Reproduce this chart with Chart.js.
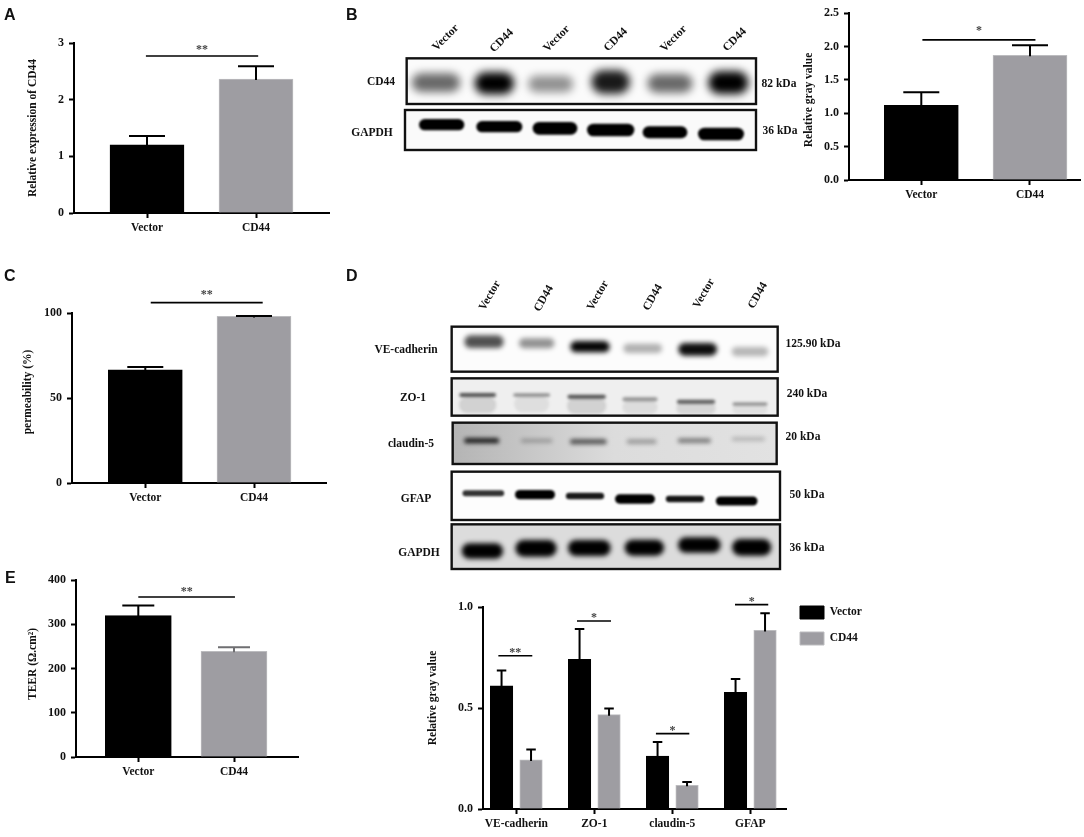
<!DOCTYPE html>
<html>
<head>
<meta charset="utf-8">
<title>CD44 panels</title>
<script src="https://cdn.jsdelivr.net/npm/chart.js@4"></script>
<style>
    html, body { margin: 0; background: #fff; }
    #page { position: relative; width: 1084px; height: 837px; overflow: hidden; }
    #page canvas { position: absolute; }
    .lbl { position: absolute; white-space: nowrap; font: bold 11.5px "Liberation Serif", serif; color: #111; }
    .letter { position: absolute; font: bold 16px "Liberation Sans", sans-serif; color: #111; line-height: 16px; }
</style>
</head>
<body>
<div id="page"><canvas id="blots" width="1084" height="837" style="left:0;top:0"></canvas></div>
<script>
const barCategories = ['Vector', 'CD44'];
const markerCategories = ['VE-cadherin', 'ZO-1', 'claudin-5', 'GFAP'];
const seriesNames = ['Vector', 'CD44'];

// panel A
const expressionValues = [1.205, 2.365];
const expressionErrorTops = [1.36, 2.59];
const expressionTicks = ['0', '1', '2', '3'];
const expressionSig = [[-0.01, 1.02, 2.77, '**']];

// panel B
const grayValues = [1.12, 1.87];
const grayErrorTops = [1.316, 2.02];
const grayTicks = ['0.0', '0.5', '1.0', '1.5', '2.0', '2.5'];
const graySig = [[0.01, 1.05, 2.10, '*']];

// panel C
const permeabilityValues = [66.5, 98];
const permeabilityErrorTops = [68.2, 98.3];
const permeabilityTicks = ['0', '50', '100'];
const permeabilitySig = [[0.05, 1.08, 106.1, '**']];

// panel E
const teerValues = [320, 239];
const teerErrorTops = [342.5, 248.5];
const teerTicks = ['0', '100', '200', '300', '400'];
const teerSig = [[0, 1.01, 362, '**']];

// panel D chart
const markerVector = [0.61, 0.741, 0.262, 0.578];
const markerVectorTops = [0.686, 0.891, 0.332, 0.644];
const markerCd44 = [0.243, 0.467, 0.117, 0.884];
const markerCd44Tops = [0.294, 0.498, 0.134, 0.969];
const markerTicks = ['0.0', '0.5', '1.0'];
const markerSig = [
    [-0.23, 0.205, 0.759, '**'],
    [0.778, 1.214, 0.931, '*'],
    [1.79, 2.218, 0.373, '*'],
    [2.804, 3.23, 1.012, '*']
];

const BLACK = '#000';
const GRAY = '#9e9da2';
const GRAY_EDGE = '#bcbcbf';
const SERIF = '"Liberation Serif", serif';

const page = document.getElementById('page');

function addLabel(text, x, y, rotate) {
    const el = document.createElement('div');
    el.className = 'lbl';
    el.textContent = text;
    el.style.left = x + 'px';
    el.style.top = y + 'px';
    el.style.transform = `translate(-50%,-50%) rotate(${rotate || 0}deg)`;
    page.appendChild(el);
}

function addLetter(text, x, y) {
    const el = document.createElement('div');
    el.className = 'letter';
    el.textContent = text;
    el.style.left = x + 'px';
    el.style.top = y + 'px';
    page.appendChild(el);
}

function makePanel(cfg) {
    const plot = cfg.plot;
    const canvas = document.createElement('canvas');
    const box = {
        left: plot.left - cfg.margin.left,
        top: plot.top - cfg.margin.top,
        right: plot.right + cfg.margin.right,
        bottom: plot.bottom + cfg.margin.bottom
    };
    canvas.width = box.right - box.left;
    canvas.height = box.bottom - box.top;
    canvas.style.left = box.left + 'px';
    canvas.style.top = box.top + 'px';
    page.appendChild(canvas);

    const tickValues = cfg.yTicks.map(Number);
    const marks = {
        id: 'marks',
        afterLayout(chart) {
            if (!cfg.legendAt || !chart.legend) return;
            const lg = chart.legend;
            const dx = cfg.legendAt.x - box.left - lg.left;
            const dy = cfg.legendAt.y - box.top - lg.top;
            lg.left += dx; lg.right += dx; lg.top += dy; lg.bottom += dy;
        },
        afterDraw(chart) {
            const ctx = chart.ctx;
            const xs = chart.scales.x, ys = chart.scales.y;
            ctx.save();
            // error bars, only the upper arm shows
            cfg.errorTops.forEach((tops, d) => {
                const meta = chart.getDatasetMeta(d);
                tops.forEach((top, i) => {
                    const el = meta.data[i];
                    const yTop = ys.getPixelForValue(top);
                    const color = cfg.errorColor ? cfg.errorColor[d][i] : BLACK;
                    ctx.strokeStyle = color;
                    ctx.lineWidth = 2;
                    ctx.beginPath();
                    ctx.moveTo(el.x, el.y + 1);
                    ctx.lineTo(el.x, yTop);
                    ctx.moveTo(el.x - cfg.capWidth / 2, yTop);
                    ctx.lineTo(el.x + cfg.capWidth / 2, yTop);
                    ctx.stroke();
                });
            });
            // significance lines
            cfg.sig.forEach(s => {
                const x1 = xs.getPixelForValue(s[0]);
                const x2 = xs.getPixelForValue(s[1]);
                const y = ys.getPixelForValue(s[2]);
                ctx.strokeStyle = BLACK;
                ctx.lineWidth = 1.6;
                ctx.beginPath();
                ctx.moveTo(x1, y);
                ctx.lineTo(x2, y);
                ctx.stroke();
                ctx.fillStyle = '#444';
                ctx.font = 'bold 12px ' + SERIF;
                ctx.textAlign = 'center';
                ctx.textBaseline = 'alphabetic';
                ctx.fillText(s[3], (x1 + x2) / 2, y - cfg.starGap);
            });
            // y title sits off centre in the original so it is placed by hand
            ctx.translate(cfg.yTitle.x - box.left, cfg.yTitle.y - box.top);
            ctx.rotate(-Math.PI / 2);
            ctx.fillStyle = '#111';
            ctx.font = 'bold 11.5px ' + SERIF;
            ctx.textAlign = 'center';
            ctx.textBaseline = 'middle';
            ctx.fillText(cfg.yTitle.text, 0, 0);
            ctx.restore();
        }
    };

    const unit = cfg.tickSpacing;
    const chart = new Chart(canvas, {
        type: 'bar',
        data: { datasets: cfg.datasets },
        plugins: [marks],
        options: {
            responsive: false,
            animation: false,
            devicePixelRatio: 1,
            layout: { padding: { left: 0, top: cfg.margin.top, right: cfg.margin.right, bottom: 0 } },
            plugins: {
                tooltip: { enabled: false },
                legend: cfg.legend || { display: false }
            },
            scales: {
                x: {
                    type: 'linear',
                    offset: false,
                    bounds: 'data',
                    min: (plot.left - cfg.firstTick) / unit,
                    max: (plot.right - cfg.firstTick) / unit,
                    afterBuildTicks: s => { s.ticks = cfg.categories.map((c, i) => ({ value: i })); },
                    afterFit: s => { s.height = cfg.margin.bottom; },
                    grid: { offset: false, drawOnChartArea: false, tickLength: 5, tickWidth: 2, tickColor: BLACK },
                    border: { color: BLACK, width: 2 },
                    ticks: {
                        autoSkip: false, maxRotation: 0, padding: 3, color: '#111',
                        font: { family: SERIF, size: 11.5, weight: 'bold' },
                        callback: (v, i) => cfg.categories[i]
                    }
                },
                y: {
                    min: tickValues[0],
                    max: tickValues[tickValues.length - 1],
                    afterBuildTicks: s => { s.ticks = tickValues.map(v => ({ value: v })); },
                    afterFit: s => { s.width = cfg.margin.left; },
                    grid: { drawOnChartArea: false, tickLength: 5, tickWidth: 2, tickColor: BLACK },
                    border: { color: BLACK, width: 2 },
                    ticks: {
                        padding: 5, color: '#111',
                        font: { family: SERIF, size: 12, weight: 'bold' },
                        callback: (v, i) => cfg.yTicks[i]
                    }
                }
            }
        }
    });

    // the layout adds a little room for tick labels, take it back so the axes land where wanted
    const pad = chart.options.layout.padding;
    for (let k = 0; k < 2; k++) {
        const a = chart.chartArea;
        pad.top += plot.top - box.top - a.top;
        pad.right += (box.right - plot.right) - (box.right - box.left - a.right);
        chart.update();
    }
    return chart;
}

function singleSeries(values) {
    return [{
        data: values.map((v, i) => ({ x: i, y: v })),
        backgroundColor: [BLACK, GRAY],
        borderColor: [BLACK, GRAY_EDGE],
        borderWidth: 1,
        barThickness: 74
    }];
}

makePanel({
    plot: { left: 74, right: 329, top: 43, bottom: 213 },
    margin: { left: 60, right: 4, top: 20, bottom: 30 },
    firstTick: 147, tickSpacing: 109,
    categories: barCategories, yTicks: expressionTicks,
    datasets: singleSeries(expressionValues),
    errorTops: [expressionErrorTops], capWidth: 36,
    sig: expressionSig, starGap: 3,
    yTitle: { text: 'Relative expression of CD44', x: 33, y: 128 }
});

makePanel({
    plot: { left: 849, right: 1080, top: 11, bottom: 180 },
    margin: { left: 60, right: 4, top: 10, bottom: 30 },
    firstTick: 921.3, tickSpacing: 108.7,
    categories: barCategories, yTicks: grayTicks,
    datasets: singleSeries(grayValues),
    errorTops: [grayErrorTops], capWidth: 36,
    sig: graySig, starGap: 6,
    yTitle: { text: 'Relative gray value', x: 809, y: 100 }
});

makePanel({
    plot: { left: 72, right: 326, top: 313, bottom: 483 },
    margin: { left: 60, right: 4, top: 30, bottom: 30 },
    firstTick: 145.3, tickSpacing: 108.7,
    categories: barCategories, yTicks: permeabilityTicks,
    datasets: singleSeries(permeabilityValues),
    errorTops: [permeabilityErrorTops], capWidth: 36,
    sig: permeabilitySig, starGap: 5,
    yTitle: { text: 'permeability (%)', x: 28, y: 392 }
});

const teerData = singleSeries(teerValues);
teerData[0].barThickness = 66;
makePanel({
    plot: { left: 76, right: 298, top: 578, bottom: 757 },
    margin: { left: 60, right: 4, top: 10, bottom: 30 },
    firstTick: 138.3, tickSpacing: 95.7,
    categories: barCategories, yTicks: teerTicks,
    datasets: teerData,
    errorTops: [teerErrorTops], errorColor: [[BLACK, '#6f6f72']], capWidth: 32,
    sig: teerSig, starGap: 2,
    yTitle: { text: 'TEER (Ω.cm²)', x: 33, y: 664 }
});

// the two bars of a group sit this far either side of the group tick
const groupOffset = [-0.189, 0.189];
makePanel({
    plot: { left: 483, right: 786, top: 607, bottom: 809 },
    margin: { left: 60, right: 110, top: 17, bottom: 28 },
    firstTick: 516.3, tickSpacing: 78,
    categories: markerCategories, yTicks: markerTicks,
    datasets: [
        {
            label: seriesNames[0], grouped: false, barThickness: 22.5,
            data: markerVector.map((v, i) => ({ x: i + groupOffset[0], y: v })),
            backgroundColor: BLACK, borderColor: BLACK, borderWidth: 1
        },
        {
            label: seriesNames[1], grouped: false, barThickness: 22.5,
            data: markerCd44.map((v, i) => ({ x: i + groupOffset[1], y: v })),
            backgroundColor: GRAY, borderColor: GRAY_EDGE, borderWidth: 1
        }
    ],
    errorTops: [markerVectorTops, markerCd44Tops], capWidth: 9.5,
    sig: markerSig, starGap: 0,
    yTitle: { text: 'Relative gray value', x: 433, y: 698 },
    legend: {
        position: 'right', align: 'start',
        labels: {
            boxWidth: 24, boxHeight: 13, padding: 13, color: '#111',
            font: { family: SERIF, size: 11.5, weight: 'bold' }
        }
    },
    legendAt: { x: 787, y: 593 }
});

const blotStripsB = [
    { rect: [200, 175, 1048, 137], bg: '#fbfbfb', blur: 4, bands: [
        [288, 248, 145, 56, 0.58], [463, 250, 118, 66, 1], [632, 252, 135, 50, 0.42],
        [812, 246, 115, 70, 0.9], [990, 250, 135, 56, 0.58], [1165, 248, 120, 68, 1]
    ] },
    { rect: [195, 330, 1053, 120], bg: '#fafafa', blur: 1.2, bands: [
        [305, 374, 136, 34, 1], [478, 380, 138, 34, 1], [645, 385, 134, 38, 1],
        [812, 390, 142, 38, 1], [975, 397, 134, 36, 1], [1143, 402, 138, 38, 1]
    ] }
];
const blotStripsD = [
    { rect: [335, 200, 978, 135], bg: '#fcfcfc', blur: 2.5, bands: [
        [432, 245, 118, 38, 0.68], [590, 250, 106, 30, 0.42], [750, 260, 118, 34, 0.98],
        [908, 265, 116, 28, 0.3], [1073, 268, 116, 38, 0.95], [1230, 275, 110, 28, 0.28]
    ] },
    { rect: [335, 355, 978, 112], bg: '#efefef', blur: 1.5, bands: [
        [413, 405, 110, 12, 0.65], [575, 405, 110, 9, 0.45], [740, 410, 115, 12, 0.65],
        [900, 418, 105, 12, 0.38], [1068, 425, 115, 12, 0.6], [1230, 432, 105, 9, 0.42],
        // smear under the lanes
        [413, 435, 112, 50, 0.12], [575, 432, 105, 50, 0.07], [740, 438, 118, 48, 0.12],
        [900, 442, 105, 40, 0.08], [1068, 445, 118, 36, 0.1], [1230, 448, 105, 30, 0.06]
    ] },
    { rect: [338, 488, 972, 124], bg: 'grad', blur: 2, bands: [
        [425, 542, 105, 16, 0.85], [590, 542, 95, 12, 0.25], [745, 545, 110, 16, 0.6],
        [905, 545, 90, 14, 0.3], [1063, 542, 100, 14, 0.45], [1225, 537, 100, 12, 0.2]
    ] },
    { rect: [335, 635, 985, 145], bg: '#fdfdfd', blur: 1, bands: [
        [430, 700, 125, 18, 0.8], [585, 704, 120, 28, 1], [735, 708, 115, 20, 0.9],
        [885, 717, 120, 28, 1], [1035, 717, 115, 19, 0.92], [1190, 723, 125, 27, 1]
    ] },
    { rect: [335, 793, 985, 134], bg: '#dcdcdc', blur: 2.5, bands: [
        [427, 873, 124, 46, 1], [588, 865, 124, 50, 1], [748, 864, 128, 48, 1],
        [913, 863, 118, 48, 1], [1078, 855, 128, 46, 1], [1235, 862, 118, 50, 1]
    ] }
];

function drawBlots(ctx, strips, ox, oy) {
    strips.forEach(st => {
        const x = ox + st.rect[0] / 3, y = oy + st.rect[1] / 3, w = st.rect[2] / 3, h = st.rect[3] / 3;
        ctx.save();
        ctx.beginPath();
        ctx.rect(x, y, w, h);
        ctx.clip();
        if (st.bg === 'grad') {
            const g = ctx.createLinearGradient(x, 0, x + w, 0);
            g.addColorStop(0, '#b4b4b4');
            g.addColorStop(0.5, '#dcdcdc');
            g.addColorStop(1, '#e2e2e2');
            ctx.fillStyle = g;
        } else {
            ctx.fillStyle = st.bg;
        }
        ctx.fillRect(x, y, w, h);
        ctx.filter = `blur(${st.blur}px)`;
        st.bands.forEach(b => {
            const bw = b[2] / 3, bh = b[3] / 3;
            ctx.fillStyle = `rgba(0,0,0,${b[4]})`;
            ctx.beginPath();
            ctx.roundRect(ox + b[0] / 3 - bw / 2, oy + b[1] / 3 - bh / 2, bw, bh, bh / 2);
            ctx.fill();
        });
        ctx.restore();
        ctx.strokeStyle = '#111';
        ctx.lineWidth = 2.4;
        ctx.strokeRect(x, y, w, h);
    });
}

const blotCtx = document.getElementById('blots').getContext('2d');
drawBlots(blotCtx, blotStripsB, 340, 0);
drawBlots(blotCtx, blotStripsD, 340, 260);

// blot B labels
[[445, 37], [501, 40], [556, 38], [615, 39], [673, 38], [734, 39]].forEach((p, i) =>
    addLabel(barCategories[i % 2], p[0], p[1], -45));
addLabel('CD44', 381, 81);
addLabel('GAPDH', 372, 132);
addLabel('82 kDa', 779, 83);
addLabel('36 kDa', 780, 130);

// blot D labels
[[489, 295], [543, 298], [597, 295], [652, 297], [703, 293], [757, 295]].forEach((p, i) =>
    addLabel(barCategories[i % 2], p[0], p[1], -60));
addLabel('VE-cadherin', 406, 349);
addLabel('ZO-1', 413, 397);
addLabel('claudin-5', 411, 443);
addLabel('GFAP', 416, 498);
addLabel('GAPDH', 419, 552);
addLabel('125.90 kDa', 813, 343);
addLabel('240 kDa', 807, 393);
addLabel('20 kDa', 803, 436);
addLabel('50 kDa', 807, 494);
addLabel('36 kDa', 807, 547);

addLetter('A', 4, 7);
addLetter('B', 346, 7);
addLetter('C', 4, 268);
addLetter('D', 346, 268);
addLetter('E', 5, 570);
</script>
</body>
</html>
